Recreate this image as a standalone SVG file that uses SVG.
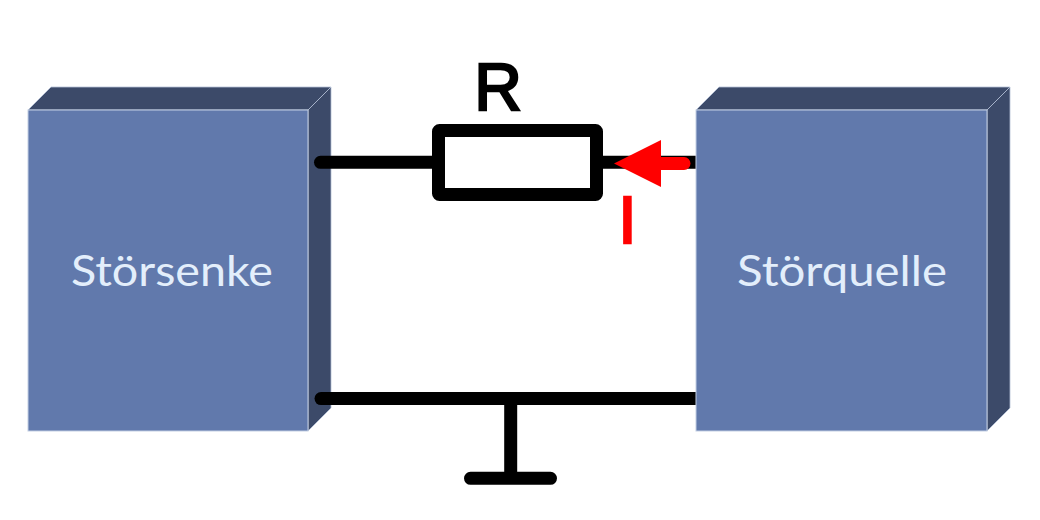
<svg xmlns="http://www.w3.org/2000/svg" width="1040" height="520" viewBox="0 0 1040 520">
<style>
.front{fill:#6179ac;stroke:#c3cfe3;stroke-width:1}
.side{fill:#3c4a69;stroke:#b4c0d6;stroke-width:.8}
.lbl{font-family:"Lato","Open Sans",sans-serif;font-size:43px;fill:#e3eefb;text-anchor:middle}
.wire{fill:none;stroke:#000;stroke-width:13;stroke-linecap:round;stroke-linejoin:round}
.sym{font-family:"Liberation Sans",Arial,sans-serif;font-size:66px;text-anchor:middle;stroke-width:2.4}
</style>
<rect width="1040" height="520" fill="#fff"/>
<g id="stoersenke">
<path class="side" d="M28 110L51 87H331L308 110Z"/>
<path class="side" d="M308 110L331 87V408L308 431Z"/>
<rect class="front" x="28" y="110" width="280" height="321"/>
<text class="lbl" x="172" y="286" textLength="202" lengthAdjust="spacingAndGlyphs">Störsenke</text>
</g>
<g id="connectors">
<path class="wire" d="M320.500 162.300H710"/>
<path class="wire" d="M321 398.600H710"/>
<path class="wire" d="M510.700 398.600V478.300M470.500 478.300H550.500"/>
</g>
<g id="stoerquelle">
<path class="side" d="M696 110L719 87H1010L987 110Z"/>
<path class="side" d="M987 110L1010 87V408L987 431Z"/>
<rect class="front" x="696" y="110" width="291" height="321"/>
<text class="lbl" x="842" y="286" textLength="210" lengthAdjust="spacingAndGlyphs">Störquelle</text>
</g>
<g id="resistor">
<rect x="438.500" y="130.500" width="158" height="64" rx="1" fill="#fff" stroke="#000" stroke-width="13" stroke-linejoin="round"/>
<text class="sym" x="498" y="110" fill="#000" stroke="#000">R</text>
</g>
<g id="current">
<path d="M614 163.500L661 140V187Z" fill="#f00"/>
<path d="M655 163.500H684" fill="none" stroke="#f00" stroke-width="13" stroke-linecap="round"/>
<text class="sym" x="627.500" y="243" fill="#f00" stroke="#f00">I</text>
</g>
</svg>
